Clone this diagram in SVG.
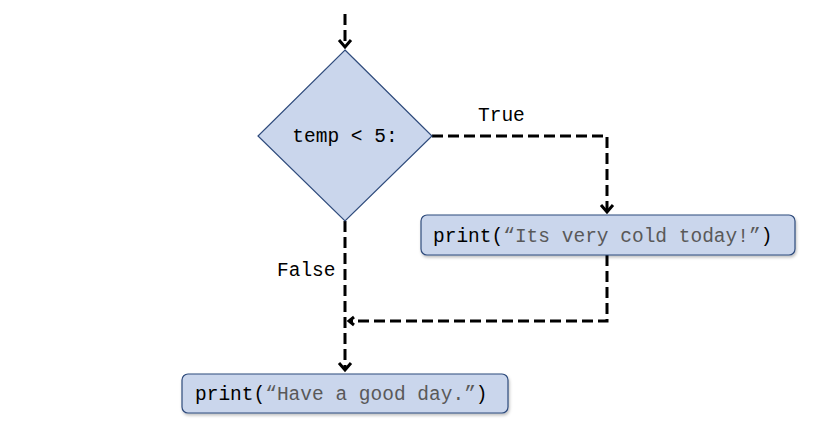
<svg xmlns="http://www.w3.org/2000/svg" width="817" height="425" viewBox="0 0 817 425">
<style>
.node{fill:#cad6ec;stroke:#2f4b7c;stroke-width:1.2}
.t{font-family:"Liberation Mono","Courier New",monospace;font-size:19.5px;fill:#000}
.s{fill:#595959}
.c{fill:none;stroke:#000;stroke-width:3;stroke-dasharray:11 5}
.a{fill:none;stroke:#000;stroke-width:3}
</style>
<defs>
<filter id="sh" x="-5%" y="-20%" width="110%" height="150%">
<feDropShadow dx="1" dy="2" stdDeviation="1.5" flood-color="#000" flood-opacity="0.25"/>
</filter>
</defs>
<rect width="817" height="425" fill="#fff"/>
<g id="connectors">
<path class="c" d="M345,14 V46"/>
<path class="a" d="M339,40 L345,47 L351,40"/>
<path class="c" d="M432,136 H607 V211"/>
<path class="a" d="M601,205 L607,212 L613,205"/>
<path class="c" d="M345,221 V370"/>
<path class="a" d="M339,363 L345,370 L351,363"/>
<path class="c" d="M607,255 V321 H350"/>
<path class="a" d="M354,317 L349,321 L354,325"/>
<text class="t" x="478" y="121">True</text>
<text class="t" x="277" y="276">False</text>
</g>
<g id="decision">
<polygon class="node" points="345,50 432,136 345,221 258,136"/>
<text class="t" x="345" y="142" text-anchor="middle">temp &lt; 5:</text>
</g>
<g id="print1">
<rect class="node" x="421" y="215" width="374" height="40" rx="6" filter="url(#sh)"/>
<text class="t" x="433" y="242">print(<tspan class="s">“Its very cold today!”</tspan>)</text>
</g>
<g id="print2">
<rect class="node" x="182" y="374" width="326" height="39" rx="6" filter="url(#sh)"/>
<text class="t" x="195" y="400">print(<tspan class="s">“Have a good day.”</tspan>)</text>
</g>
</svg>
